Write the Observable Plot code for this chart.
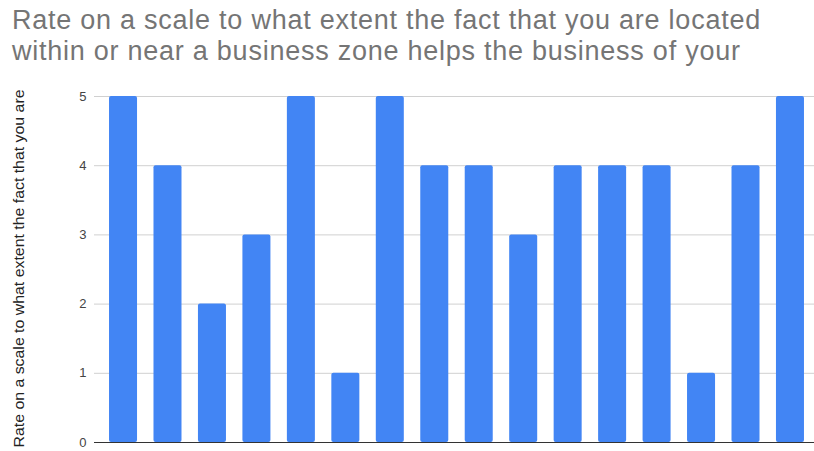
<!DOCTYPE html>
<html><head><meta charset="utf-8">
<script src="https://cdn.jsdelivr.net/npm/d3@7"></script>
<script src="https://cdn.jsdelivr.net/npm/@observablehq/plot@0.6"></script>
<style>
body{margin:0;background:#fff;width:814px;height:451px;overflow:hidden;font-family:"Liberation Sans",Arial,sans-serif;}
#title{position:absolute;left:12px;top:5px;font-size:27px;letter-spacing:0.75px;line-height:31px;color:#757575;white-space:nowrap;}
#chart{position:absolute;left:0;top:80px;}
</style></head>
<body>
<div id="title">Rate on a scale to what extent the fact that you are located<br>within or near a business zone helps the business of your</div>
<div id="chart"></div>
<script>
const respondents = ["1","2","3","4","5","6","7","8","9","10","11","12","13","14","15","16"];
const ratings = [5,4,2,3,5,1,5,4,4,3,4,4,4,1,4,5];
const yTicks = [0,1,2,3,4,5];
const yLabel = "Rate on a scale to what extent the fact that you are";

const data = respondents.map((r,i)=>({r, v: ratings[i]}));

const plot = Plot.plot({
  width: 814, height: 371,
  marginLeft: 94, marginRight: 0, marginTop: 16, marginBottom: 9,
  style: {fontFamily: '"Liberation Sans", Arial, sans-serif', fontSize: "13px", color: "#444", background: "#fff", overflow: "visible"},
  x: {domain: respondents, range: [100.8, 812.2], paddingInner: 0.37, paddingOuter: 0.185, round: false, axis: null},
  y: {domain: [0,5], ticks: yTicks, label: null},
  marks: [
    Plot.ruleY(yTicks.filter(d=>d>0), {stroke: "#d0d0d0", strokeWidth: 1}),
    Plot.axisY({ticks: yTicks, tickSize: 0, tickPadding: 8, tickFormat: "d", fill: "#444", fontSize: 13, label: null}),
    Plot.barY(data, {x: "r", y: "v", fill: "#4285F4", rx: 2}),
    Plot.ruleY([0], {stroke: "#333", strokeWidth: 1}),
    Plot.text([yLabel], {frameAnchor: "left", dx: -75, dy: -1, rotate: -90, textAnchor: "middle", fontSize: 14, fill: "#222", text: d=>d, className: "ylab"})
  ]
});
d3.select(plot).selectAll(".ylab text").attr("textLength", 358).attr("lengthAdjust", "spacingAndGlyphs");
document.getElementById("chart").appendChild(plot);
</script>
</body></html>
